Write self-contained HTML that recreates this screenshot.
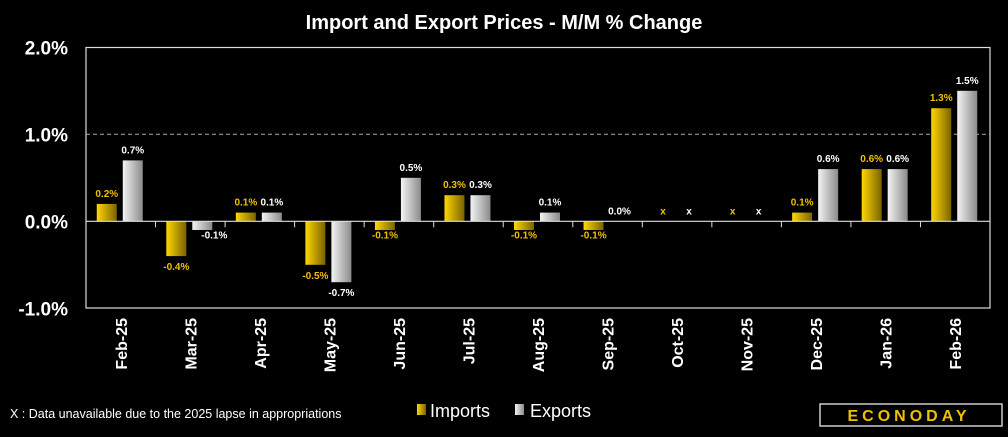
<!DOCTYPE html>
<html><head><meta charset="utf-8"><style>
body{margin:0;background:#000;width:1008px;height:432px;overflow:hidden;font-family:"Liberation Sans","DejaVu Sans",sans-serif}
</style></head><body>
<svg id="c" width="1008" height="432" xmlns="http://www.w3.org/2000/svg">
<defs>
<linearGradient id="gi" x1="0" x2="1"><stop offset="0" stop-color="#ffd700"/><stop offset="1" stop-color="#7a6200"/></linearGradient>
<linearGradient id="ge" x1="0" x2="1"><stop offset="0" stop-color="#f4f4f4"/><stop offset="1" stop-color="#8a8a8a"/></linearGradient>
</defs>
<text x="504" y="29" fill="#fff" font-size="20" font-weight="bold" text-anchor="middle">Import and Export Prices - M/M % Change</text>
<g id="plot"></g>
<text x="10" y="418" fill="#fff" font-size="12.5">X : Data unavailable due to the 2025 lapse in appropriations</text>
<rect x="417" y="404" width="9" height="11" fill="url(#gi)"/>
<text x="430" y="417" fill="#fff" font-size="18">Imports</text>
<rect x="515" y="404" width="9" height="11" fill="url(#ge)"/>
<text x="530" y="417" fill="#fff" font-size="18">Exports</text>
<g>
<rect x="820" y="404" width="182" height="22" fill="#000" stroke="#ccc" stroke-width="1.5"/>
<text x="909" y="421" fill="#f0c000" font-size="16" font-weight="bold" text-anchor="middle" letter-spacing="4">ECONODAY</text>
</g>
</svg>
<script>
const categories=["Feb-25","Mar-25","Apr-25","May-25","Jun-25","Jul-25","Aug-25","Sep-25","Oct-25","Nov-25","Dec-25","Jan-26","Feb-26"];
const imports=[0.2,-0.4,0.1,-0.5,-0.1,0.3,-0.1,-0.1,null,null,0.1,0.6,1.3];
const exports_=[0.7,-0.1,0.1,-0.7,0.5,0.3,0.1,0.0,null,null,0.6,0.6,1.5];
const yTicks=[2,1,0,-1];
const NS="http://www.w3.org/2000/svg";
const L=86,R=990,T=47.5,B=308;
const y=v=>221.3-v*87;
const bw=(R-L)/categories.length;
const cx=i=>L+bw*(i+0.5);
const g=document.getElementById('plot');
function mk(t,a,p){const e=document.createElementNS(NS,t);for(const k in a)e.setAttribute(k,a[k]);(p||g).appendChild(e);return e;}
const box=mk('rect',{x:L,y:T,width:R-L,height:B-T,fill:'none',stroke:'#ddd','stroke-width':1.2});


const grid=mk('line',{x1:L,x2:R,y1:y(1),y2:y(1),stroke:'#aaa','stroke-dasharray':'4,3'});


yTicks.forEach(v=>{const t=mk('text',{x:68,y:y(v)+7,fill:'#fff','font-size':19,'font-weight':'bold','text-anchor':'end'});t.textContent=v.toFixed(1)+'%';

});
function fmt(v){return v.toFixed(1)+'%';}
categories.forEach((c,i)=>{
 const x=cx(i);
 if(i>0){const tk=mk('line',{x1:L+bw*i,x2:L+bw*i,y1:y(0),y2:y(0)+6,stroke:'#ddd'});
 
 }
 const lb=mk('text',{transform:`translate(${x+6},318) rotate(-90)`,fill:'#fff','font-size':16,'font-weight':'bold','text-anchor':'end'});lb.textContent=c;
 
 
 [[imports[i],x-24,'url(#gi)','#f0c000','bar-imports'],[exports_[i],x+2,'url(#ge)','#fff','bar-exports']].forEach(([v,bx,fill,col,nm])=>{
  if(v===null){const t=mk('text',{x:bx+10,y:y(0)-7,fill:col,'font-size':10,'font-weight':'bold','text-anchor':'middle'});t.textContent='x';
   
   return;}
  const r=mk('rect',{x:bx,y:Math.min(y(v),y(0)),width:20,height:Math.abs(y(v)-y(0)),fill});
  
  
  let ty,tx=bx+10,anchor='middle';
  if(v>=0)ty=y(v)-7;else{ty=y(v)+14;if(Math.abs(y(v)-y(0))<12){ty=y(0)+17;}}
  if(v<0&&nm==='bar-exports'&&v>-0.2){tx=bx+22;ty=y(0)+17;}
  const t=mk('text',{x:tx,y:ty,fill:col,'font-size':10,'font-weight':'bold','text-anchor':anchor});t.textContent=fmt(v);
  
  
 });
});
const z=mk('line',{x1:L,x2:R,y1:y(0),y2:y(0),stroke:'#ddd','stroke-width':1.2});


</script>
</body></html>
